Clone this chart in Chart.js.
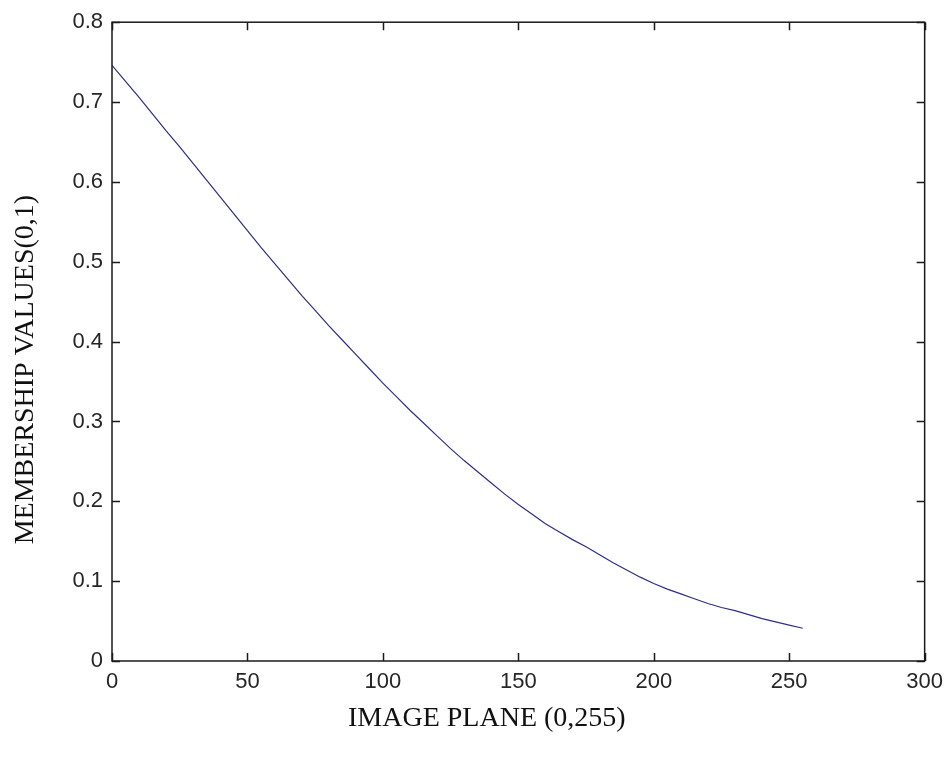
<!DOCTYPE html>
<html>
<head>
<meta charset="utf-8">
<script src="https://cdn.jsdelivr.net/npm/chart.js@4/dist/chart.umd.min.js"></script>
<style>
  html, body { margin: 0; padding: 0; background: #ffffff; }
  #wrap { width: 951px; height: 762px; }
</style>
</head>
<body>
<div id="wrap"><canvas id="c" width="951" height="762"></canvas></div>
<script>
// Image plane positions (x) and membership values (y)
const imagePlane = [0, 5, 10, 15, 20, 25, 30, 35, 40, 45, 50, 55, 60, 65, 70, 75, 80, 85, 90, 95,
  100, 105, 110, 115, 120, 125, 130, 135, 140, 145, 150, 155, 160, 165, 170, 175, 180, 185, 190, 195,
  200, 205, 210, 215, 220, 225, 230, 235, 240, 245, 250, 255];
const membership = [0.746, 0.726, 0.706, 0.685, 0.664, 0.644, 0.623, 0.602, 0.581, 0.560,
  0.539, 0.518, 0.498, 0.478, 0.458, 0.439, 0.420, 0.402, 0.384, 0.366,
  0.348, 0.331, 0.314, 0.298, 0.282, 0.266, 0.251, 0.237, 0.223, 0.209,
  0.196, 0.184, 0.172, 0.162, 0.152, 0.143, 0.133, 0.123, 0.114, 0.105,
  0.097, 0.090, 0.084, 0.078, 0.072, 0.067, 0.063, 0.058, 0.053, 0.049,
  0.045, 0.041];
const xTicks = [0, 50, 100, 150, 200, 250, 300];
const xTickLabels = ['0', '50', '100', '150', '200', '250', '300'];
const yTicks = [0, 0.1, 0.2, 0.3, 0.4, 0.5, 0.6, 0.7, 0.8];
const yTickLabels = ['0', '0.1', '0.2', '0.3', '0.4', '0.5', '0.6', '0.7', '0.8'];
const xTitle = 'IMAGE PLANE (0,255)';
const yTitle = 'MEMBERSHIP VALUES(0,1)';

const points = imagePlane.map((x, i) => ({ x: x, y: membership[i] }));

const boxTicks = {
  id: 'boxTicks',
  afterDraw(chart) {
    const { ctx, chartArea: a, scales } = chart;
    const len = 8;
    ctx.save();
    ctx.strokeStyle = '#1a1a1a';
    ctx.lineWidth = 1.5;
    ctx.strokeRect(a.left, a.top, a.right - a.left, a.bottom - a.top);
    ctx.beginPath();
    scales.x.ticks.forEach(t => {
      const px = Math.round(scales.x.getPixelForValue(t.value)) + 0.5;
      ctx.moveTo(px, a.bottom); ctx.lineTo(px, a.bottom - len);
      ctx.moveTo(px, a.top); ctx.lineTo(px, a.top + len);
    });
    scales.y.ticks.forEach(t => {
      const py = Math.round(scales.y.getPixelForValue(t.value)) + 0.5;
      ctx.moveTo(a.left, py); ctx.lineTo(a.left + len, py);
      ctx.moveTo(a.right, py); ctx.lineTo(a.right - len, py);
    });
    ctx.stroke();
    ctx.restore();
  }
};

new Chart(document.getElementById('c'), {
  type: 'scatter',
  data: {
    datasets: [{
      data: points,
      showLine: true,
      borderColor: '#2e2e88',
      borderWidth: 1.2,
      pointRadius: 0,
      tension: 0,
      fill: false
    }]
  },
  options: {
    responsive: false,
    animation: false,
    layout: { padding: { left: 0, top: 22, right: 26, bottom: 0 } },
    plugins: { legend: { display: false }, tooltip: { enabled: false } },
    scales: {
      x: {
        type: 'linear', min: 0, max: 300,
        afterBuildTicks: s => { s.ticks = xTicks.map(v => ({ value: v })); },
        afterFit: s => { s.height = 101; },
        grid: { display: false, drawTicks: false },
        border: { display: false },
        ticks: {
          padding: 8,
          color: '#262626',
          font: { family: 'Liberation Sans, Arial, sans-serif', size: 22 },
          callback: v => xTickLabels[xTicks.indexOf(v)]
        },
        title: {
          display: true, text: xTitle + '         ', color: '#111111',
          font: { family: 'Liberation Serif, Times New Roman, serif', size: 28 },
          padding: { top: 0, bottom: 27 }
        }
      },
      y: {
        type: 'linear', min: 0, max: 0.8,
        afterBuildTicks: s => { s.ticks = yTicks.map(v => ({ value: v })); },
        afterFit: s => { s.width = 112; },
        grid: { display: false, drawTicks: false },
        border: { display: false },
        ticks: {
          padding: 9,
          color: '#262626',
          font: { family: 'Liberation Sans, Arial, sans-serif', size: 22 },
          callback: v => { const i = yTicks.findIndex(t => Math.abs(t - v) < 1e-9); return i >= 0 ? yTickLabels[i] : ''; }
        },
        title: {
          display: true, text: yTitle + '        ', color: '#111111',
          font: { family: 'Liberation Serif, Times New Roman, serif', size: 28 },
          padding: { top: 9, bottom: 0 }
        }
      }
    }
  },
  plugins: [boxTicks]
});
</script>
</body>
</html>
